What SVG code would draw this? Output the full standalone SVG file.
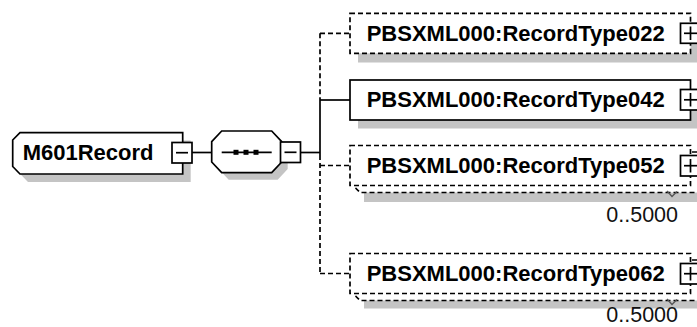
<svg xmlns="http://www.w3.org/2000/svg" width="697" height="327" viewBox="0 0 697 327">
<style>
.ln{fill:none;stroke:#000;stroke-width:1.7}
.dash{stroke-dasharray:5 3}
.box{fill:#fff;stroke:#000;stroke-width:1.7}
.sh{fill:#c4c4c4;stroke:none}
.t{font-family:"Liberation Sans",Arial,sans-serif;font-size:22px;font-weight:bold;fill:#000}
.occ{font-family:"Liberation Sans",Arial,sans-serif;font-size:21.5px;fill:#111}
</style>
<rect x="0" y="0" width="697" height="327" fill="#fff"/>
<g id="connectors">
<line class="ln" x1="192" y1="152.5" x2="211.7" y2="152.5"/>
<line class="ln" x1="300.7" y1="152.5" x2="320" y2="152.5"/>
<line class="ln dash" x1="320" y1="33.3" x2="320" y2="100"/>
<line class="ln" x1="320" y1="100" x2="320" y2="155"/>
<line class="ln dash" x1="320" y1="155" x2="320" y2="273.5"/>
<line class="ln dash" x1="320" y1="33.3" x2="350" y2="33.3"/>
<line class="ln" x1="320" y1="100" x2="350" y2="100"/>
<line class="ln dash" x1="320" y1="165.5" x2="350" y2="165.5"/>
<line class="ln dash" x1="320" y1="273.5" x2="350" y2="273.5"/>
</g>
<g id="M601Record">
<path class="sh" d="M28,140.5 H190.7 V182 H28 L20.7,174.5 V148 Z"/>
<path class="box" d="M20,132.7 H182.7 V174 H20 L12.7,166.5 V140 Z"/>
<text class="t" x="22.7" y="159.5">M601Record</text>
<rect class="box" x="172" y="142.5" width="20" height="20.5"/>
<line class="ln" x1="176" y1="152.7" x2="188" y2="152.7"/>
</g>
<g id="sequence">
<path class="sh" d="M228.7,138 H277.7 L287.7,148.7 V169 L277.7,179.7 H228.7 L218.7,169 V148.7 Z"/>
<path class="box" d="M221.7,131 H271.7 L281.7,141.7 V162 L271.7,172.7 H221.7 L211.7,162 V141.7 Z"/>
<line class="ln" x1="221.7" y1="152.3" x2="271.7" y2="152.3"/>
<rect x="233.5" y="149.8" width="5" height="5" fill="#000"/>
<rect x="243.5" y="149.8" width="5" height="5" fill="#000"/>
<rect x="253.5" y="149.8" width="5" height="5" fill="#000"/>
<rect class="box" x="280.5" y="142" width="20" height="20.5"/>
<line class="ln" x1="284.5" y1="152.3" x2="296.5" y2="152.3"/>
</g>
<g id="RecordType022">
<rect class="sh" x="358" y="22" width="345" height="40.5"/>
<rect class="box dash" x="350" y="13.3" width="340.5" height="40"/>
<text class="t" x="366.7" y="40.5">PBSXML000:RecordType022</text>
<rect class="box" x="680.5" y="23.3" width="20" height="20"/>
<line class="ln" x1="684" y1="33.3" x2="697" y2="33.3"/>
<line class="ln" x1="690.5" y1="26.5" x2="690.5" y2="40"/>
</g>
<g id="RecordType042">
<rect class="sh" x="358" y="88.5" width="345" height="40"/>
<rect class="box" x="350" y="80" width="340.5" height="40"/>
<text class="t" x="366.7" y="107">PBSXML000:RecordType042</text>
<rect class="box" x="680.5" y="89.5" width="20" height="20.5"/>
<line class="ln" x1="684" y1="99.8" x2="697" y2="99.8"/>
<line class="ln" x1="690.5" y1="93" x2="690.5" y2="106.5"/>
</g>
<g id="RecordType052">
<rect class="sh" x="364" y="160" width="345" height="42"/>
<path class="box dash" d="M356,152 H705 V192.5 H360 L356,188.5 Z"/>
<rect class="box dash" x="350" y="145.5" width="340.5" height="40"/>
<text class="t" x="366.7" y="173">PBSXML000:RecordType052</text>
<rect class="box" x="680.5" y="155.5" width="20" height="20.5"/>
<line class="ln" x1="684" y1="165.7" x2="697" y2="165.7"/>
<line class="ln" x1="690.5" y1="159" x2="690.5" y2="172.5"/>
<polyline fill="none" stroke="#555" stroke-width="1.3" points="667,191 672,196.5 677,191.5"/>
<text class="occ" x="678" y="221.7" text-anchor="end">0..5000</text>
</g>
<g id="RecordType062">
<rect class="sh" x="364" y="268" width="345" height="40.5"/>
<path class="box dash" d="M356,260 H705 V300.5 H360 L356,296.5 Z"/>
<rect class="box dash" x="350" y="253.5" width="340.5" height="40"/>
<text class="t" x="366.7" y="280.5">PBSXML000:RecordType062</text>
<rect class="box" x="680.5" y="263.5" width="20" height="20.5"/>
<line class="ln" x1="684" y1="273.7" x2="697" y2="273.7"/>
<line class="ln" x1="690.5" y1="267" x2="690.5" y2="280.5"/>
<polyline fill="none" stroke="#555" stroke-width="1.3" points="667,299 672,304.5 677,299.5"/>
<text class="occ" x="678" y="321.5" text-anchor="end">0..5000</text>
</g>
</svg>
